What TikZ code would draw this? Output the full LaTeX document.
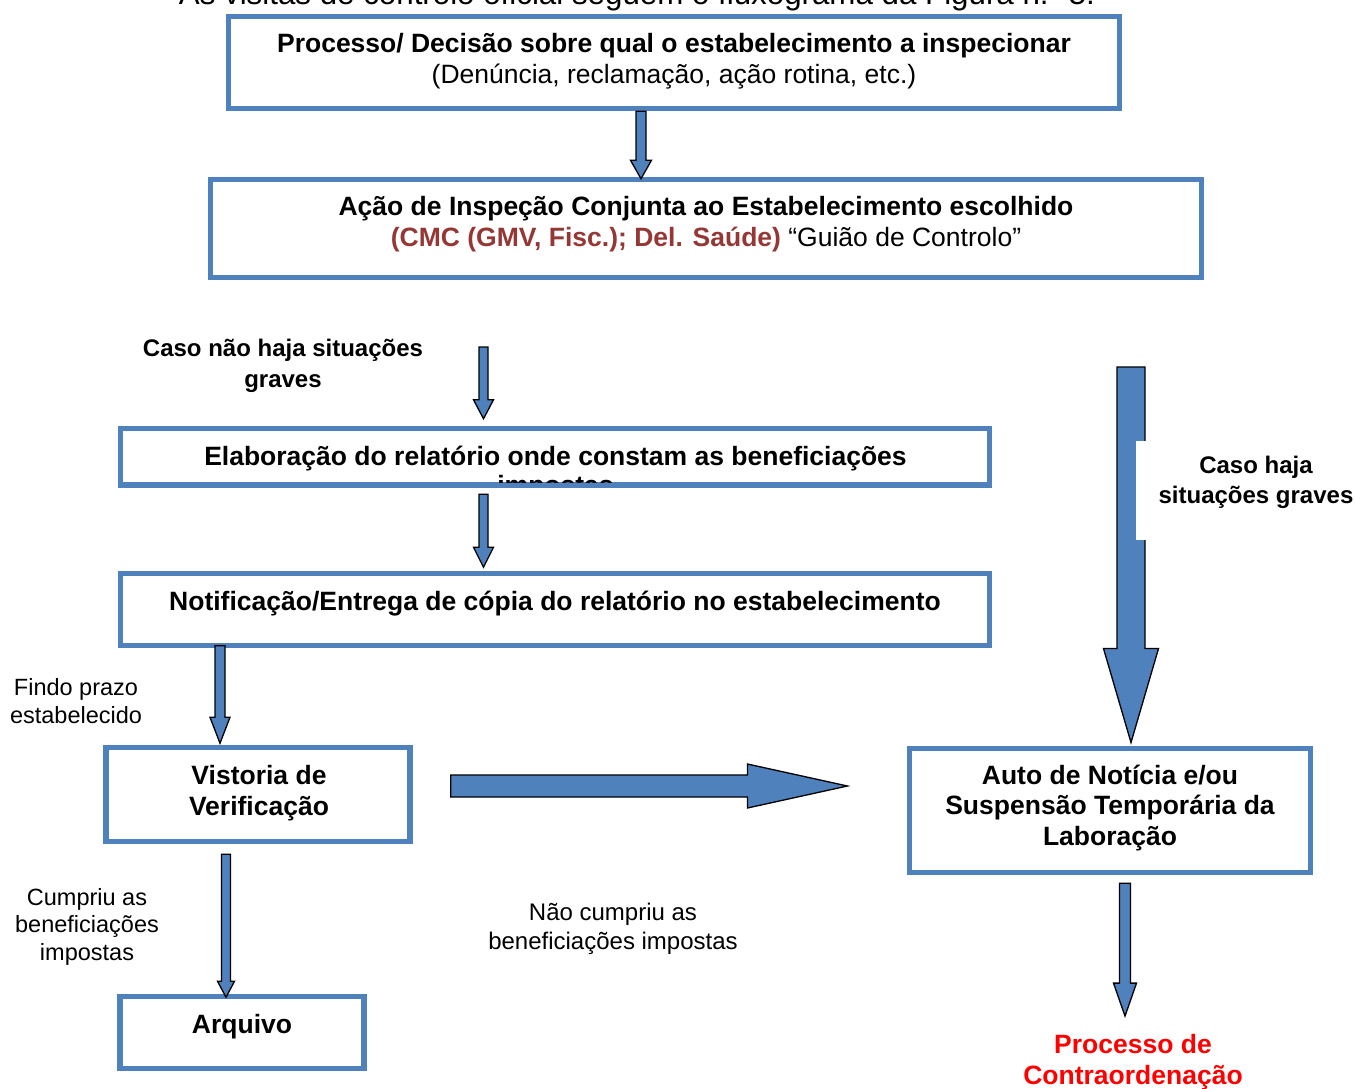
\documentclass[tikz,border=0pt]{standalone}
\usepackage{fontspec}
\setmainfont{Liberation Sans}
\usetikzlibrary{calc}
\definecolor{boxblue}{HTML}{4F81BD}
\definecolor{darkred}{HTML}{953735}
\definecolor{cored}{HTML}{FF0000}
\tikzset{
 box/.style={draw=boxblue, line width=5.5pt, fill=white, inner sep=0pt},
 blk/.style={fill=boxblue, draw=black, line width=1.3pt, line join=miter},
 fbig/.style={font=\fontsize{26.5}{30.5}\selectfont, align=center, inner sep=0pt, anchor=base},
 fbigb/.style={font=\fontsize{26.5}{30.5}\selectfont\bfseries, align=center, inner sep=0pt, anchor=base},
 flab/.style={font=\fontsize{23.5}{27.5}\selectfont, align=center, inner sep=0pt, anchor=base},
 flabb/.style={font=\fontsize{24}{30.5}\selectfont\bfseries, align=center, inner sep=0pt, anchor=base},
}
% vertical block arrow: #1 start, #2 tip, #3 shaft half width, #4 head half width, #5 head length
\newcommand\blkdown[5]{%
  \draw[blk] let \p1=(#1), \p2=(#2) in
    (\x2-#3,\y1) -- (\x2+#3,\y1) -- (\x2+#3,\y2+#5) -- (\x2+#4,\y2+#5) -- (\x2,\y2)
    -- (\x2-#4,\y2+#5) -- (\x2-#3,\y2+#5) -- cycle;}
% horizontal block arrow pointing right
\newcommand\blkright[5]{%
  \draw[blk] let \p1=(#1), \p2=(#2) in
    (\x1,\y2-#3) -- (\x2-#5,\y2-#3) -- (\x2-#5,\y2-#4) -- (\x2,\y2)
    -- (\x2-#5,\y2+#4) -- (\x2-#5,\y2+#3) -- (\x1,\y2+#3) -- cycle;}
\begin{document}
\begin{tikzpicture}[x=1pt,y=-1pt]
\useasboundingbox (0,0) rectangle (1355,1088);
% partially visible line of body text above the figure
\node[font=\fontsize{31.3}{36}\selectfont, inner sep=0pt, anchor=base] (intro) at (637,4)
  {As visitas de controlo oficial seguem o fluxograma da Figura n.º 5.};
% boxes
\node[box, minimum width=891pt, minimum height=92pt] (b1) at (674,62.5) {};
\node[box, minimum width=991pt, minimum height=98pt] (b2) at (706,228.5) {};
\node[box, minimum width=869pt, minimum height=56.5pt] (b3) at (555,456.75) {};
\node[box, minimum width=869pt, minimum height=72pt] (b4) at (555,609.5) {};
\node[box, minimum width=304pt, minimum height=94pt] (b5) at (258,794.5) {};
\node[box, minimum width=244pt, minimum height=72pt] (b6) at (242,1032.5) {};
\node[box, minimum width=400.6pt, minimum height=124.2pt] (b7) at (1110,810.4) {};
% box texts
\node[fbigb] (t1a) at (674,52) {Processo/ Decisão sobre qual o estabelecimento a inspecionar};
\node[fbig] (t1b) at (674,83) {(Denúncia, reclamação, ação rotina, etc.)};
\node[fbigb] (t2a) at (706,215) {Ação de Inspeção Conjunta ao Estabelecimento escolhido};
\node[fbig] (t2b) at (706,246) {\textcolor{darkred}{\bfseries (CMC (GMV, Fisc.); Del. Saúde)} “Guião de Controlo”};
\node[fbigb] (t3a) at (555.5,465) {Elaboração do relatório onde constam as beneficiações};
\begin{scope}
  \clip (130,430) rectangle (980,482);
  \node[fbigb] (t3b) at (555.5,494.5) {impostas};
\end{scope}
\node[fbigb] (t4) at (555,610) {Notificação/Entrega de cópia do relatório no estabelecimento};
\node[fbigb] (t5) at (259,815) {Vistoria de\\Verificação};
\node[fbigb] (t6) at (242,1033) {Arquivo};
\node[fbigb] (t7) at (1110,845) {Auto de Notícia e/ou\\Suspensão Temporária da\\Laboração};
\node[fbigb, text=cored] (t8) at (1133,1084) {Processo de\\Contraordenação};
% side labels
\node[flabb] (l1) at (283,387) {Caso não haja situações\\graves};
\node[flab] (l2) at (76,723) {Findo prazo\\estabelecido};
\node[flab] (l3) at (87,960) {Cumpriu as\\beneficiações\\impostas};
\node[font=\fontsize{24}{29}\selectfont, align=center, inner sep=0pt, anchor=base] (l4) at (613,949) {Não cumpriu as\\beneficiações impostas};
% arrow reference coordinates
\coordinate (x1) at (641,0);
\coordinate (x2) at (483.5,0);
\coordinate (x3) at (220,0);
\coordinate (x4) at (226,0);
\coordinate (x5) at (1131,0);
\coordinate (x6) at (1125,0);
\coordinate (s2) at (483.5,347);
\coordinate (s5) at (1131,367);
\coordinate (hs) at ($(b5.east)+(38,-8.5)$);
\coordinate (ht) at ($(b7.west)+(-59.5,-24.4)$);
% connectors
\blkdown{x1 |- b1.south}{$(x1 |- b2.north)+(0,2)$}{5pt}{10.5pt}{18.5pt}
\blkdown{s2}{$(x2 |- b3.north)+(0,-7)$}{4.5pt}{10pt}{19pt}
\blkdown{$(x2 |- b3.south)+(0,6.5)$}{$(x2 |- b4.north)+(0,-3.5)$}{4.5pt}{10pt}{20pt}
\blkdown{$(x3 |- b4.south)+(0,-2.5)$}{$(x3 |- b5.north)+(0,-1.5)$}{5pt}{10pt}{26pt}
\blkdown{$(x4 |- b5.south)+(0,10)$}{$(x4 |- b6.north)+(0,3.5)$}{4.5pt}{8.5pt}{16pt}
\blkright{hs}{ht}{11pt}{22pt}{100pt}
\blkdown{s5}{$(x5 |- b7.north)+(0,-3)$}{14pt}{27.5pt}{94pt}
\blkdown{$(x6 |- b7.south)+(0,8)$}{$(x6 |- t8.north)+(0,-18)$}{5.5pt}{11.5pt}{33pt}
% label over the big arrow with white background
\node[fill=white, inner sep=0pt, minimum width=240pt, minimum height=99pt] (l5bg) at (1256,490.5) {};
\node[flabb] (l5) at (1256,503.5) {Caso haja\\situações graves};
\end{tikzpicture}
\end{document}
